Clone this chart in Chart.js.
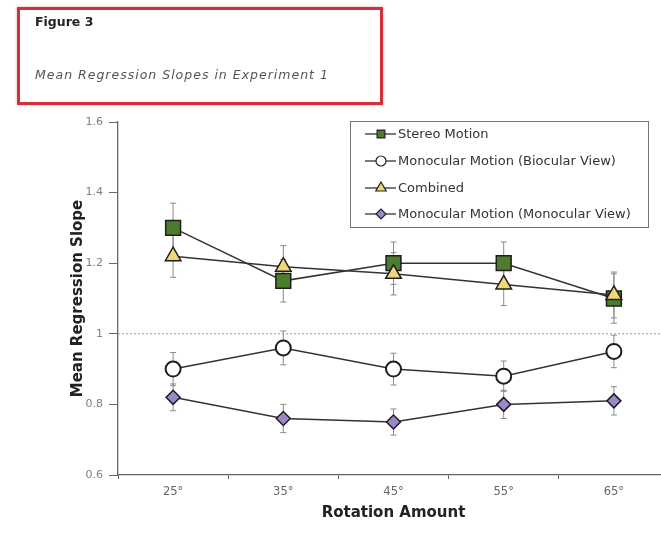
<!DOCTYPE html>
<html><head><meta charset="utf-8">
<script src="https://cdn.jsdelivr.net/npm/chart.js@4.4.0/dist/chart.umd.min.js"></script>
<style>
html,body{margin:0;padding:0;background:#fff;width:661px;height:534px;overflow:hidden;font-family:"DejaVu Sans",sans-serif;}
#wrap{position:absolute;left:0;top:0;width:681px;height:534px;}
#tbox{position:absolute;left:17px;top:7px;width:360px;height:92px;border:3px solid #d32f3a;box-shadow:0 0 3px rgba(200,40,50,0.35);}
#fig{position:absolute;left:15px;top:4px;font-size:12.5px;font-weight:bold;color:#222;}
#sub{position:absolute;left:15px;top:57px;font-size:12.5px;font-style:italic;color:#555;letter-spacing:1px;}
</style></head>
<body>
<div id="wrap"><canvas id="c" width="681" height="534"></canvas></div>
<div id="tbox"><div id="fig">Figure 3</div><div id="sub">Mean Regression Slopes in Experiment 1</div></div>
<script>
const categories = ['25°','35°','45°','55°','65°'];
const seriesNames = ['Stereo Motion','Monocular Motion (Biocular View)','Combined','Monocular Motion (Monocular View)'];
const stereoMotion = [1.30, 1.15, 1.20, 1.20, 1.10];
const stereoErr = [0.07, 0.06, 0.06, 0.06, 0.07];
const monoBiocular = [0.90, 0.96, 0.90, 0.88, 0.95];
const monoBiocularErr = [0.047, 0.048, 0.045, 0.043, 0.046];
const combined = [1.22, 1.19, 1.17, 1.14, 1.11];
const combinedErr = [0.06, 0.06, 0.06, 0.06, 0.065];
const monoMonocular = [0.82, 0.76, 0.75, 0.80, 0.81];
const monoMonocularErr = [0.038, 0.04, 0.037, 0.04, 0.04];
const yTicks = [0.6, 0.8, 1.0, 1.2, 1.4, 1.6];
const referenceLine = 1.0;

const errs = [stereoErr, monoBiocularErr, combinedErr, monoMonocularErr];
const FONT = '"DejaVu Sans", sans-serif';

const errorBars = {
  id:'errorBars',
  beforeDatasetsDraw(chart){
    const ctx = chart.ctx, y = chart.scales.y, x = chart.scales.x;
    const ry = y.getPixelForValue(referenceLine);
    ctx.save();
    ctx.strokeStyle = '#999'; ctx.lineWidth = 1; ctx.setLineDash([2,2]);
    ctx.beginPath(); ctx.moveTo(chart.chartArea.left, ry); ctx.lineTo(chart.chartArea.right, ry); ctx.stroke();
    ctx.setLineDash([]);
    ctx.strokeStyle = '#8a8a8a'; ctx.lineWidth = 1;
    chart.data.datasets.forEach((ds, di) => {
      ds.data.forEach((v, i) => {
        const px = x.getPixelForValue(i);
        const t = y.getPixelForValue(v + errs[di][i]);
        const b = y.getPixelForValue(v - errs[di][i]);
        ctx.beginPath();
        ctx.moveTo(px, t); ctx.lineTo(px, b);
        ctx.moveTo(px-3, t); ctx.lineTo(px+3, t);
        ctx.moveTo(px-3, b); ctx.lineTo(px+3, b);
        ctx.stroke();
      });
    });
    ctx.restore();
  }
};

const boxLegend = {
  id:'boxLegend',
  afterDraw(chart){
    const ctx = chart.ctx;
    const L = 350, T = 121, R = 648, B = 227;
    ctx.save();
    ctx.fillStyle = '#fff';
    ctx.fillRect(L, T, R-L, B-T);
    ctx.strokeStyle = '#777'; ctx.lineWidth = 1;
    ctx.strokeRect(L+0.5, T+0.5, R-L, B-T);
    const rows = [134, 161, 188, 214];
    const sizes = [5.5, 5, 6, 5];
    ctx.font = '13px ' + FONT;
    ctx.textBaseline = 'middle';
    chart.data.datasets.forEach((ds, i) => {
      const yy = rows[i];
      ctx.strokeStyle = '#333'; ctx.lineWidth = 1.3;
      ctx.beginPath(); ctx.moveTo(365, yy); ctx.lineTo(396, yy); ctx.stroke();
      ctx.fillStyle = ds.pointBackgroundColor; ctx.strokeStyle = '#222'; ctx.lineWidth = 1.2;
      Chart.helpers.drawPoint(ctx, {pointStyle: ds.pointStyle, radius: sizes[i], rotation: 0, borderWidth: 1.2}, 381, yy);
      ctx.fillStyle = '#333';
      ctx.fillText(ds.label, 398, yy + 0.5);
    });
    ctx.restore();
  }
};

function mk(label, data, style, fill, r, bw, order){
  return {label, data, order, pointStyle: style, pointRadius: r, pointHoverRadius: r,
    pointBackgroundColor: fill, pointBorderColor: '#1e1e1e', pointBorderWidth: bw,
    borderColor: '#333', borderWidth: 1.5, fill: false, tension: 0};
}

new Chart(document.getElementById('c'), {
  type: 'line',
  data: {
    labels: categories,
    datasets: [
      mk(seriesNames[0], stereoMotion, 'rect', '#4b7d2c', 10.5, 1.5, 2),
      mk(seriesNames[1], monoBiocular, 'circle', '#ffffff', 7.5, 2, 1),
      mk(seriesNames[2], combined, 'triangle', '#f2d67a', 9, 1.5, 0),
      mk(seriesNames[3], monoMonocular, 'rectRot', '#9c87c9', 7, 1.5, 1)
    ]
  },
  options: {
    responsive: false, animation: false, devicePixelRatio: 1,
    layout: {padding: {left: 65, top: 122, right: 1, bottom: 8}},
    plugins: {legend: {display: false}, tooltip: {enabled: false}},
    scales: {
      x: {
        offset: true,
        grid: {drawOnChartArea: false, tickLength: 4, color: '#666', offset: true},
        border: {color: '#666', width: 1.3},
        ticks: {color: '#666', padding: 6, font: {size: 11.5, family: FONT}},
        title: {display: true, text: 'Rotation Amount', color: '#222', padding: {top: 4, bottom: 4},
          font: {size: 15, weight: 'bold', family: FONT}},
        afterFit(s){ s.height = 51; }
      },
      y: {
        min: 0.6, max: 1.6,
        afterBuildTicks(s){ s.ticks = yTicks.map(v => ({value: v})); },
        grid: {drawOnChartArea: false, tickLength: 9, color: '#666'},
        border: {color: '#666', width: 1.3},
        ticks: {color: '#808080', padding: 6, font: {size: 11, family: FONT},
          callback: v => String(Number(v.toFixed(1)))},
        title: {display: true, text: 'Mean Regression Slope', color: '#222', padding: {top: 4, bottom: 4},
          font: {size: 15, weight: 'bold', family: FONT}},
        afterFit(s){ s.width = 53; }
      }
    }
  },
  plugins: [errorBars, boxLegend]
});
</script>
</body></html>
